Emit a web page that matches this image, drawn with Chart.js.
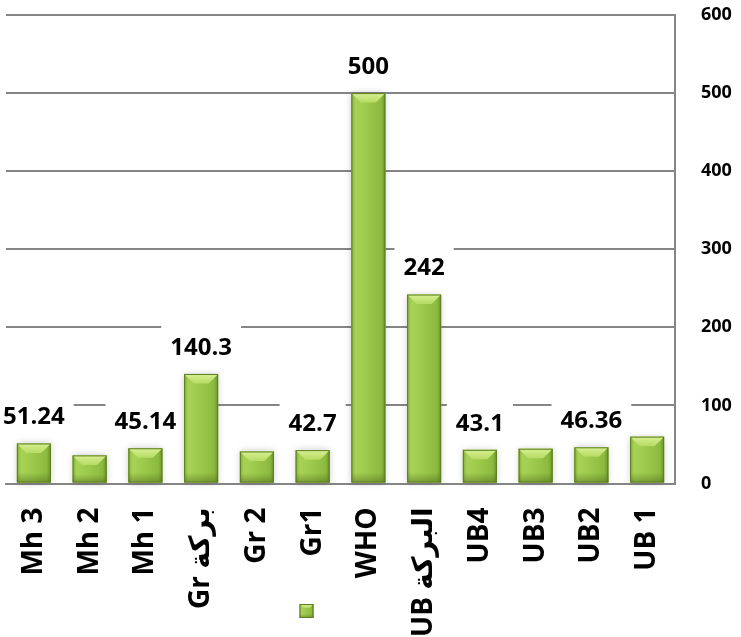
<!DOCTYPE html>
<html>
<head>
<meta charset="utf-8">
<script src="https://cdn.jsdelivr.net/npm/chart.js@4.4.1/dist/chart.umd.min.js"></script>
<style>
  html, body { margin: 0; padding: 0; background: #ffffff; }
  #wrap { width: 741px; height: 637px; }
</style>
</head>
<body>
<div id="wrap"><canvas id="c" width="741" height="637"></canvas></div>
<script>
// Sampling sites and their measured values
const categories = ['Mh 3', 'Mh 2', 'Mh 1', 'Gr بركة', 'Gr 2', 'Gr1', 'WHO', 'UB البركة', 'UB4', 'UB3', 'UB2', 'UB 1'];
const values = [51.24, 36, 45.14, 140.3, 41, 42.7, 500, 242, 43.1, 44.5, 46.36, 60];
// Which bars carry a value label
const labelled = [true, false, true, true, false, true, true, true, true, false, true, false];
// Value axis ticks
const yTicks = [0, 100, 200, 300, 400, 500, 600];

const FONT = "'Open Sans', 'DejaVu Sans', sans-serif";
const GRID = '#868686';

// Paint one bevelled green column
function paintColumn(ctx, x, top, base, w) {
  const l = x - w / 2, r = x + w / 2, h = base - top;
  if (h <= 0) return;
  let g = ctx.createLinearGradient(l, 0, r, 0);
  g.addColorStop(0, '#85AD39');
  g.addColorStop(0.12, '#A7D256');
  g.addColorStop(0.5, '#9BC84A');
  g.addColorStop(0.88, '#8CBA3F');
  g.addColorStop(1, '#6B912B');
  ctx.fillStyle = g;
  ctx.fillRect(l, top, w, h);

  const sh = Math.min(10, h * 0.3);
  g = ctx.createLinearGradient(0, base - sh, 0, base);
  g.addColorStop(0, 'rgba(70,95,25,0)');
  g.addColorStop(1, 'rgba(70,95,25,0.45)');
  ctx.fillStyle = g;
  ctx.fillRect(l, base - sh, w, sh);

  const b = Math.min(w * 0.28, h * 0.5, 10);
  ctx.beginPath();
  ctx.moveTo(l, top);
  ctx.lineTo(r, top);
  ctx.lineTo(r - b, top + b);
  ctx.lineTo(l + b, top + b);
  ctx.closePath();
  g = ctx.createLinearGradient(0, top, 0, top + b);
  g.addColorStop(0, '#D7F093');
  g.addColorStop(1, '#B6DB64');
  ctx.fillStyle = g;
  ctx.fill();

  ctx.strokeStyle = '#5E7D22';
  ctx.lineWidth = 1;
  ctx.strokeRect(l + 0.5, top + 0.5, w - 1, h - 1);
}

// Value labels on white boxes, drawn beneath the columns
const valueLabels = {
  id: 'valueLabels',
  beforeDatasetsDraw(chart) {
    const ctx = chart.ctx;
    const meta = chart.getDatasetMeta(0);
    ctx.save();
    ctx.font = "bold 24px " + FONT;
    ctx.textAlign = 'center';
    ctx.textBaseline = 'middle';
    meta.data.forEach((el, i) => {
      if (!labelled[i]) return;
      const txt = String(values[i]);
      const cy = el.y - 27;
      const tw = ctx.measureText(txt).width;
      ctx.fillStyle = '#ffffff';
      ctx.fillRect(el.x - tw / 2 - 9, cy - 22, tw + 18, 44);
      ctx.fillStyle = '#000000';
      ctx.fillText(txt, el.x, cy + 1);
    });
    // soft shadow behind columns
    ctx.shadowColor = 'rgba(0,0,0,0.22)';
    ctx.shadowBlur = 7;
    ctx.fillStyle = '#ffffff';
    meta.data.forEach(el => {
      ctx.fillRect(el.x - el.width / 2, el.y, el.width, el.base - el.y);
    });
    ctx.restore();
  },
  afterDatasetsDraw(chart) {
    const ctx = chart.ctx;
    const meta = chart.getDatasetMeta(0);
    ctx.save();
    meta.data.forEach(el => paintColumn(ctx, el.x, el.y, el.base, el.width));
    ctx.restore();
  },
  afterDraw(chart) {
    const ctx = chart.ctx;
    const a = chart.chartArea;
    ctx.save();
    // right-hand frame line of the plot
    ctx.strokeStyle = GRID;
    ctx.lineWidth = 2;
    ctx.beginPath();
    ctx.moveTo(a.right, a.top - 1);
    ctx.lineTo(a.right, a.bottom + 1);
    ctx.stroke();
    // legend swatch for the single unnamed series
    const cx = (a.left + a.right) / 2 - 34;
    paintColumn(ctx, cx, 604, 618, 14);
    ctx.restore();
  }
};

new Chart(document.getElementById('c'), {
  type: 'bar',
  data: {
    labels: categories,
    datasets: [{
      label: '',
      data: values,
      backgroundColor: '#9BC84A',
      borderWidth: 0,
      barPercentage: 0.61,
      categoryPercentage: 1.0
    }]
  },
  options: {
    responsive: false,
    animation: false,
    layout: { padding: { top: 15, left: 6, right: 0, bottom: 0 } },
    plugins: {
      legend: { display: false },
      tooltip: { enabled: false }
    },
    scales: {
      x: {
        grid: { display: false, drawTicks: false },
        border: { display: true, color: GRID, width: 2 },
        ticks: {
          autoSkip: false,
          minRotation: 90,
          maxRotation: 90,
          padding: 24,
          color: '#000000',
          font: { family: FONT, size: 28, weight: 'bold' }
        },
        afterFit(scale) { scale.height = 153.5; }
      },
      y: {
        position: 'right',
        min: yTicks[0],
        max: yTicks[yTicks.length - 1],
        afterBuildTicks(scale) { scale.ticks = yTicks.map(v => ({ value: v })); },
        grid: { color: GRID, lineWidth: 2, drawTicks: true, tickLength: 22, tickColor: 'rgba(0,0,0,0)' },
        border: { display: true, color: GRID, width: 2 },
        ticks: {
          padding: 4,
          color: '#000000',
          font: { family: FONT, size: 18, weight: 'bold' }
        },
        afterFit(scale) { scale.width = 66; }
      }
    }
  },
  plugins: [valueLabels]
});
</script>
</body>
</html>
